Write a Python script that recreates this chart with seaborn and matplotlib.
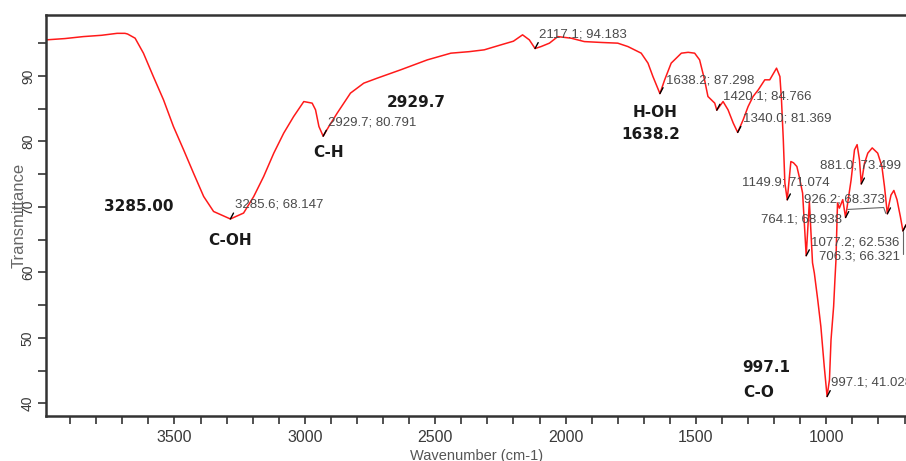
import numpy as np
import pandas as pd
import matplotlib
matplotlib.use("Agg")
import matplotlib.pyplot as plt
import seaborn as sns
from matplotlib import font_manager as fm

# ---------------- data ----------------
wavenumber = [3993, 3920, 3850, 3780, 3720, 3690, 3680, 3651, 3619, 3581, 3542, 3504,
              3465, 3427, 3388, 3350, 3285.6, 3235, 3196, 3158, 3119, 3081, 3043,
              3004, 2972, 2959, 2946, 2929.7, 2908, 2876, 2825, 2774, 2722, 2633,
              2530, 2440, 2370, 2312, 2248, 2200, 2165, 2139, 2117.1, 2094, 2062,
              2030, 1979, 1928, 1860, 1800, 1761, 1710, 1684, 1665, 1638.2, 1620,
              1595, 1556, 1530, 1505, 1486, 1467, 1454, 1428, 1420.1, 1396, 1377,
              1357, 1340.0, 1319, 1300, 1281, 1261, 1236, 1217, 1191, 1178, 1172,
              1165, 1159, 1149.9, 1136, 1126, 1113, 1104, 1091, 1077.2, 1065, 1053,
              1046, 1033, 1021, 1008, 997.1, 988, 982, 972, 967, 963, 959, 957, 950,
              937, 926.2, 918, 905, 892, 882, 873, 866, 854, 841, 824, 803, 787,
              777, 766, 760, 752, 741, 729, 716, 706.3, 694, 688]
transmittance = [95.5, 95.7, 96.0, 96.2, 96.5, 96.5, 96.4, 95.76, 93.47, 89.90, 86.34, 82.27,
                 78.71, 75.15, 71.58, 69.29, 68.147, 69.05, 71.58, 74.63, 78.21, 81.26, 83.79,
                 86.08, 85.84, 84.82, 82.27, 80.791, 82.27, 84.31, 87.37, 88.89, 89.66, 90.92,
                 92.45, 93.47, 93.7, 93.98, 94.74, 95.3, 96.27, 95.5, 94.183, 94.48, 95.0,
                 96.0, 95.76, 95.24, 95.1, 95.0, 94.48, 93.47, 91.95, 89.90, 87.298, 89.40,
                 91.95, 93.47, 93.6, 93.47, 92.45, 89.40, 86.85, 85.84, 84.766, 86.08, 84.82,
                 82.79, 81.369, 83.29, 85.32, 86.85, 87.87, 89.40, 89.40, 91.18, 89.90, 86.34,
                 80.24, 73.63, 71.074, 76.92, 76.73, 76.16, 74.63, 72.10, 62.536, 70.82, 61.46,
                 59.89, 55.81, 51.73, 45.63, 41.028, 43.6, 49.7, 54.8, 58.9, 61.9, 68.0, 70.6, 69.8,
                 71.1, 68.373, 70.6, 74.1, 78.7, 79.5, 77.2, 73.499, 76.6, 78.2, 79.0, 78.2, 76.2,
                 73.1, 68.938, 70.3, 71.8, 72.5, 71.1, 68.5, 66.321, 67.3, 67.1]

peak_labels = ["3285.6; 68.147", "2929.7; 80.791", "2117.1; 94.183", "1638.2; 87.298",
               "1420.1; 84.766", "1340.0; 81.369", "1149.9; 71.074", "881.0; 73.499",
               "926.2; 68.373", "764.1; 68.938", "1077.2; 62.536", "706.3; 66.321",
               "997.1; 41.028"]
peak_x = [3285.6, 2929.7, 2117.1, 1638.2, 1420.1, 1340.0, 1149.9, 866, 926.2, 766, 1077.2, 706.3, 997.1]
peak_y = [68.147, 80.791, 94.183, 87.298, 84.766, 81.369, 71.074, 73.499, 68.373, 68.938, 62.536, 66.321, 41.028]

group_labels = ["3285.00", "C-OH", "C-H", "2929.7", "H-OH", "1638.2", "997.1", "C-O"]

x_ticks = [3500, 3000, 2500, 2000, 1500, 1000]
y_ticks = [40, 50, 60, 70, 80, 90]

# ---------------- layout / style ----------------
peak_text_pos = [(3266.7, 70.3), (2910.4, 82.9), (2102, 96.3), (1613.9, 89.3),
                 (1395.9, 86.85), (1319, 83.55), (1321.7, 73.7), (1024.6, 76.3),
                 (1084.6, 71.1), (1248.7, 68.1), (1059.2, 64.5), (1026.9, 62.4),
                 (982.3, 43.1)]
group_text_pos = [(3769, 70.05), (3372.3, 64.82), (2969.5, 78.36), (2686.3, 85.93),
                  (1741.8, 84.47), (1786.8, 81.0), (1322.9, 45.53), (1319, 41.66)]

sns.set_style("ticks")
avail = {f.name for f in fm.fontManager.ttflist}
tick_font = "Liberation Sans Narrow" if "Liberation Sans Narrow" in avail else "Liberation Sans"
plt.rcParams['font.family'] = ['Liberation Sans', 'DejaVu Sans']

fig = plt.figure(figsize=(9.06, 4.61), dpi=100)
ax = fig.add_axes([46/906, 1 - 415.7/461, 1 - 46/906 + 0.002, (415.7 - 15)/461])

df = pd.DataFrame({"Wavenumber": wavenumber, "Transmittance": transmittance})
sns.lineplot(data=df, x="Wavenumber", y="Transmittance", sort=False, color="#ff1a1a",
             linewidth=1.1, ax=ax, estimator=None)

ax.set_xlim(3992.7, 687.5)
ax.set_ylim(38.1, 99.3)

ax.set_xticks(x_ticks)
ax.set_xticks(np.arange(700, 4000, 100), minor=True)
ax.set_yticks(y_ticks)
ax.set_yticks(np.arange(45, 100, 10), minor=True)

narrow = tick_font == "Liberation Sans Narrow"
for lab in ax.get_xticklabels():
    lab.set_fontfamily(tick_font)
    lab.set_fontsize(14 if narrow else 11.5)
    lab.set_color("#3a3a3a")
for lab in ax.get_yticklabels():
    lab.set_fontfamily(tick_font)
    lab.set_fontsize(12 if narrow else 10)
    lab.set_color("#3a3a3a")
    lab.set_rotation(90)
    lab.set_va("center")

ax.tick_params(axis="both", which="both", direction="out", length=6, width=1.2, color="#333333")
ax.tick_params(axis="x", which="both", pad=4)
ax.tick_params(axis="y", which="both", pad=2)

for s in ["left", "bottom", "top"]:
    ax.spines[s].set_color("#333333")
    ax.spines[s].set_linewidth(1.8)
ax.spines["right"].set_visible(False)

ax.set_xlabel("Wavenumber (cm-1)", fontsize=10.5, color="#555555", labelpad=3)
ax.set_ylabel("Transmittance", fontsize=12, color="#666666", labelpad=-4)

for lab, (tx, ty), px, py in zip(peak_labels, peak_text_pos, peak_x, peak_y):
    ax.text(tx, ty, lab, ha="left", va="center", fontsize=9.5, color="#4a4a4a",
            family="Liberation Sans", clip_on=False)
    ax.plot([px, px - 12], [py, py + 0.9], color="black", lw=1.0)

# leader lines for crowded labels
ax.plot([918, 780, 772], [69.6, 69.9, 69.0], color="#666666", lw=0.8)
ax.plot([706.3, 706.3], [66.321, 62.8], color="#666666", lw=0.8)

for lab, (tx, ty) in zip(group_labels, group_text_pos):
    ax.text(tx, ty, lab, ha="left", va="center", fontsize=11, fontweight="bold",
            color="#1a1a1a", family="DejaVu Sans")

fig.savefig("out.png", dpi=100)
